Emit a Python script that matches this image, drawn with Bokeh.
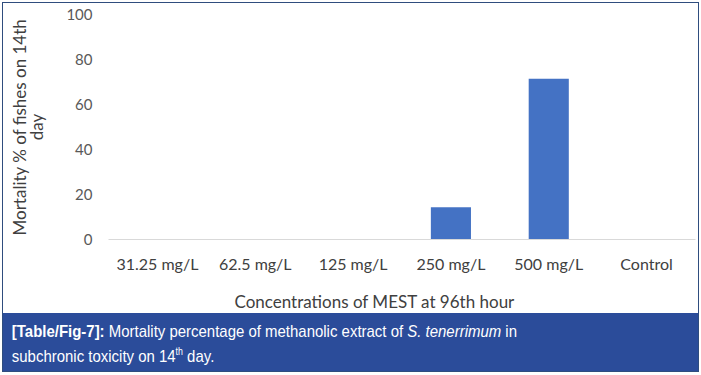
from bokeh.plotting import figure
from bokeh.models import Div, Range1d, Title
from bokeh.layouts import column
from bokeh.embed import file_html
from bokeh.resources import INLINE

categories = ["31.25 mg/L", "62.5 mg/L", "125 mg/L", "250 mg/L", "500 mg/L", "Control"]
mortality = [0, 0, 0, 14.29, 71.43, 0]
y_ticks = [0, 20, 40, 60, 80, 100]
x_title = "Concentrations of MEST at 96th hour"
y_title = "Mortality % of fishes on 14th\nday"

FONT = "Lato"

p = figure(x_range=categories, y_range=Range1d(0, 100), width=695, height=321,
           output_backend="svg", toolbar_location=None,
           min_border_left=105, min_border_right=3, min_border_top=11, min_border_bottom=84)
p.vbar(x=categories, top=mortality, width=0.41, fill_color="#4472C4", line_color=None)

p.xgrid.grid_line_color = None
p.ygrid.grid_line_color = None
p.outline_line_color = None
p.background_fill_color = "white"
p.border_fill_color = "white"

p.yaxis.ticker = y_ticks
p.yaxis.axis_line_color = None
p.yaxis.major_tick_line_color = None
p.yaxis.minor_tick_line_color = None
p.yaxis.major_tick_out = 0
p.yaxis.minor_tick_out = 0
p.yaxis.major_label_standoff = 16
p.yaxis.major_label_text_font = FONT
p.yaxis.major_label_text_font_size = "15px"
p.yaxis.major_label_text_color = "#595959"
p.yaxis.axis_label = y_title
p.yaxis.axis_label_text_font = FONT
p.yaxis.axis_label_text_font_size = "17px"
p.yaxis.axis_label_text_line_height = 0.85
p.yaxis.axis_label_text_font_style = "normal"
p.yaxis.axis_label_text_color = "#404040"
p.yaxis.axis_label_standoff = 16

p.xaxis.axis_line_color = "#d9d9d9"
p.xaxis.axis_line_width = 1
p.xaxis.major_tick_line_color = None
p.xaxis.minor_tick_line_color = None
p.xaxis.major_tick_out = 0
p.xaxis.minor_tick_out = 0
p.xaxis.major_label_standoff = 14
p.xaxis.major_label_text_font = FONT
p.xaxis.major_label_text_font_size = "16px"
p.xaxis.major_label_text_color = "#404040"

# x-axis title, centred on the whole chart area (as in the original), not on the plot frame
p.add_layout(Title(text=x_title, align="left", offset=126, standoff=26,
                   text_font=FONT, text_font_size="17px", text_font_style="normal",
                   text_color="#404040"), "below")

caption_html = (
    '<div style="font-family:\'Liberation Sans\',Arial,sans-serif;white-space:nowrap;'
    'font-size:17px;line-height:20px;color:white;padding:9px 0 0 10px;'
    'transform:scaleX(0.88);transform-origin:0 0;">'
    '<b>[Table/Fig-7]:</b> Mortality percentage of methanolic extract of '
    '<i>S. tenerrimum</i> in<br>subchronic toxicity on 14<sup style="font-size:10px;">th</sup> day.</div>'
)
cap = Div(text=caption_html, width=695, height=58, margin=(-11, 0, 0, 0),
          styles={"background-color": "#2B4C9A", "padding": "0", "overflow": "hidden",
                  "position": "relative", "z-index": "5"})

lay = column(p, cap, styles={"border": "1px solid #2F4D7E"}, margin=(2, 0, 0, 2), spacing=0)

open("out.html", "w").write(file_html(lay, INLINE))
